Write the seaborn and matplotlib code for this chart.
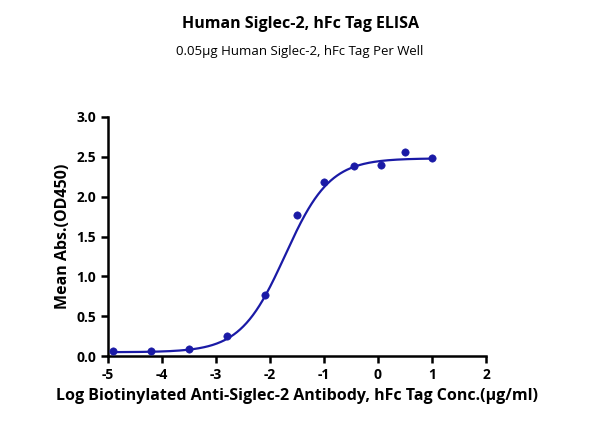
import numpy as np
import matplotlib.pyplot as plt
import seaborn as sns
import pandas as pd

plt.rcParams['font.family'] = 'Open Sans'
plt.rcParams['axes.unicode_minus'] = False

log_conc = [-4.9, -4.2, -3.5, -2.8, -2.1, -1.5, -1.0, -0.45, 0.05, 0.5, 1.0]
od450 = [0.06, 0.06, 0.09, 0.25, 0.77, 1.77, 2.18, 2.38, 2.40, 2.56, 2.48]

# 4PL fit parameters
bottom, top, logec50, hill = 0.05, 2.48, -1.72, 1.05

df = pd.DataFrame({'x': log_conc, 'y': od450})
xs = np.linspace(-4.9, 1.0, 300)
fit = pd.DataFrame({'x': xs, 'y': bottom + (top - bottom) / (1 + 10 ** ((logec50 - xs) * hill))})

color = '#1a1aa6'
fig = plt.figure(figsize=(6, 4.36), dpi=100)
ax = fig.add_axes([0.18, 0.183, 0.63, 0.549])
sns.lineplot(data=fit, x='x', y='y', color=color, linewidth=1.6, ax=ax)
sns.scatterplot(data=df, x='x', y='y', color=color, s=28, edgecolor=color, ax=ax, zorder=3)

ax.set_xlim(-5, 2)
ax.set_ylim(0, 3.0)
ax.set_xticks(range(-5, 3))
ax.set_yticks([0, 0.5, 1.0, 1.5, 2.0, 2.5, 3.0])
ax.set_yticklabels(['0.0', '0.5', '1.0', '1.5', '2.0', '2.5', '3.0'])
for s in ['top', 'right']:
    ax.spines[s].set_visible(False)
for s in ['left', 'bottom']:
    ax.spines[s].set_linewidth(1.8)
ax.tick_params(width=1.8, length=5, labelsize=10)
for lab in ax.get_xticklabels() + ax.get_yticklabels():
    lab.set_fontweight('bold')
ax.set_xlabel('Log Biotinylated Anti-Siglec-2 Antibody, hFc Tag Conc.(μg/ml)', fontsize=11.5, fontweight='bold')
ax.set_ylabel('Mean Abs.(OD450)', fontsize=11.5, fontweight='bold')

fig.text(0.5, 0.935, 'Human Siglec-2, hFc Tag ELISA', ha='center', fontsize=11.5, fontweight='bold')
fig.text(0.5, 0.873, '0.05μg Human Siglec-2, hFc Tag Per Well', ha='center', fontsize=9.5)

fig.savefig('out.png', dpi=100)
